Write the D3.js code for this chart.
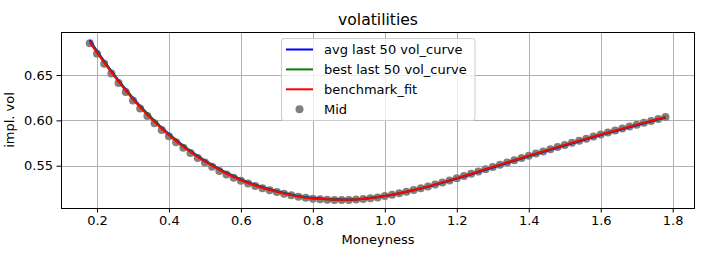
<!DOCTYPE html>
<html>
<head>
<meta charset="utf-8">
<script src="https://cdn.jsdelivr.net/npm/d3@7"></script>
<style>
  body { margin: 0; background: #fff; }
  text { font-family: "DejaVu Sans", sans-serif; fill: #000; }
</style>
</head>
<body>
<script>
// moneyness grid of the Mid quotes
const moneyness = [
  0.18, 0.20, 0.22, 0.24, 0.26, 0.28, 0.30, 0.32, 0.34, 0.36,
  0.38, 0.40, 0.42, 0.44, 0.46, 0.48, 0.50, 0.52, 0.54, 0.56,
  0.58, 0.60, 0.62, 0.64, 0.66, 0.68, 0.70, 0.72, 0.74, 0.76,
  0.78, 0.80, 0.82, 0.84, 0.86, 0.88, 0.90, 0.92, 0.94, 0.96,
  0.98, 1.00, 1.02, 1.04, 1.06, 1.08, 1.10, 1.12, 1.14, 1.16,
  1.18, 1.20, 1.22, 1.24, 1.26, 1.28, 1.30, 1.32, 1.34, 1.36,
  1.38, 1.40, 1.42, 1.44, 1.46, 1.48, 1.50, 1.52, 1.54, 1.56,
  1.58, 1.60, 1.62, 1.64, 1.66, 1.68, 1.70, 1.72, 1.74, 1.76,
  1.78
];
const midVol = [
  0.6850, 0.6734, 0.6624, 0.6517, 0.6413, 0.6314, 0.6220, 0.6131, 0.6047, 0.5968,
  0.5894, 0.5824, 0.5759, 0.5697, 0.5639, 0.5585, 0.5535, 0.5488, 0.5443, 0.5404,
  0.5368, 0.5333, 0.5303, 0.5276, 0.5251, 0.5229, 0.5209, 0.5190, 0.5174, 0.5159,
  0.5147, 0.5137, 0.5130, 0.5125, 0.5123, 0.5122, 0.5123, 0.5127, 0.5133, 0.5141,
  0.5151, 0.5165, 0.5181, 0.5197, 0.5214, 0.5232, 0.5251, 0.5271, 0.5292, 0.5314,
  0.5338, 0.5362, 0.5386, 0.5411, 0.5436, 0.5461, 0.5486, 0.5511, 0.5536, 0.5561,
  0.5585, 0.5610, 0.5634, 0.5658, 0.5682, 0.5706, 0.5729, 0.5752, 0.5775, 0.5798,
  0.5821, 0.5843, 0.5865, 0.5887, 0.5909, 0.5931, 0.5952, 0.5973, 0.5994, 0.6015,
  0.6036
];

// fitted curves
const curveMoneyness = [0.18, 0.2, 0.3, 0.4, 0.5, 0.6, 0.7, 0.8, 0.9, 1.0, 1.1, 1.2, 1.3, 1.4, 1.5, 1.6, 1.7, 1.78];
const avgCurve = [0.6885, 0.6766, 0.6248, 0.5850, 0.5557, 0.5350, 0.5220, 0.5143, 0.5126, 0.5166, 0.5248, 0.5358, 0.5481, 0.5604, 0.5723, 0.5837, 0.5947, 0.6032];
const bestCurve = [0.6872, 0.6757, 0.6241, 0.5844, 0.5552, 0.5346, 0.5216, 0.5140, 0.5125, 0.5166, 0.5250, 0.5361, 0.5485, 0.5608, 0.5727, 0.5841, 0.5950, 0.6035];
const benchmarkFit = [0.6860, 0.6746, 0.6232, 0.5836, 0.5545, 0.5340, 0.5212, 0.5138, 0.5124, 0.5166, 0.5251, 0.5363, 0.5487, 0.5611, 0.5730, 0.5844, 0.5953, 0.6037];

const xTicks = [0.2, 0.4, 0.6, 0.8, 1.0, 1.2, 1.4, 1.6, 1.8];
const yTicks = [0.55, 0.60, 0.65];

const series = [
  { name: 'avg last 50 vol_curve', values: avgCurve, color: '#0000ff' },
  { name: 'best last 50 vol_curve', values: bestCurve, color: '#008000' },
  { name: 'benchmark_fit', values: benchmarkFit, color: '#ff0000' }
];

const svgWidth = 704;
const svgHeight = 258;
const margin = { top: 32, right: 9, bottom: 50, left: 61 };

const svg = d3.select('body')
  .append('svg')
  .attr('width', svgWidth)
  .attr('height', svgHeight);

const xScale = d3.scaleLinear()
  .domain([0.10, 1.862])
  .range([margin.left, svgWidth - margin.right]);

const yScale = d3.scaleLinear()
  .domain([0.5034, 0.6974])
  .range([svgHeight - margin.bottom, margin.top]);

// grid
const grid = svg.append('g').attr('stroke', '#b0b0b0').attr('stroke-width', 1);
grid.selectAll('.gx').data(xTicks).enter().append('line')
  .attr('x1', d => Math.round(xScale(d)) + 0.5).attr('x2', d => Math.round(xScale(d)) + 0.5)
  .attr('y1', margin.top).attr('y2', svgHeight - margin.bottom);
grid.selectAll('.gy').data(yTicks).enter().append('line')
  .attr('x1', margin.left).attr('x2', svgWidth - margin.right)
  .attr('y1', d => Math.round(yScale(d)) + 0.5).attr('y2', d => Math.round(yScale(d)) + 0.5);

// Mid scatter
svg.append('g')
  .selectAll('circle')
  .data(moneyness)
  .enter()
  .append('circle')
  .attr('cx', d => xScale(d))
  .attr('cy', (d, i) => yScale(midVol[i]))
  .attr('r', 4)
  .attr('fill', '#808080');

// curves
const line = d3.line()
  .x((d, i) => xScale(curveMoneyness[i]))
  .y(d => yScale(d))
  .curve(d3.curveMonotoneX);

svg.append('g')
  .selectAll('path')
  .data(series)
  .enter()
  .append('path')
  .attr('d', d => line(d.values))
  .attr('fill', 'none')
  .attr('stroke', d => d.color)
  .attr('stroke-width', 2);

// X-axis
const xAxis = svg.append('g')
  .attr('transform', `translate(0,${svgHeight - margin.bottom})`)
  .call(d3.axisBottom(xScale).tickValues(xTicks).tickFormat(d3.format('.1f')).tickSize(4.5).tickPadding(3.5));

// Y-axis
const yAxis = svg.append('g')
  .attr('transform', `translate(${margin.left},0)`)
  .call(d3.axisLeft(yScale).tickValues(yTicks).tickFormat(d3.format('.2f')).tickSize(4.5).tickPadding(3.5));

[xAxis, yAxis].forEach(ax => {
  ax.select('.domain').remove();
  ax.selectAll('.tick line').attr('stroke', '#000').attr('stroke-width', 1);
  ax.selectAll('.tick text').attr('font-size', 13).attr('font-family', '"DejaVu Sans", sans-serif').attr('fill', '#000');
});

// frame
svg.append('rect')
  .attr('x', margin.left + 0.5)
  .attr('y', margin.top + 0.5)
  .attr('width', svgWidth - margin.left - margin.right - 1)
  .attr('height', svgHeight - margin.top - margin.bottom)
  .attr('fill', 'none')
  .attr('stroke', '#000')
  .attr('stroke-width', 1);

// labels
svg.append('text')
  .attr('x', (margin.left + svgWidth - margin.right) / 2)
  .attr('y', 25)
  .attr('text-anchor', 'middle')
  .attr('font-size', 15.6)
  .text('volatilities');

svg.append('text')
  .attr('x', (margin.left + svgWidth - margin.right) / 2)
  .attr('y', 244)
  .attr('text-anchor', 'middle')
  .attr('font-size', 13)
  .text('Moneyness');

svg.append('text')
  .attr('transform', `translate(14,${(margin.top + svgHeight - margin.bottom) / 2}) rotate(-90)`)
  .attr('text-anchor', 'middle')
  .attr('font-size', 13)
  .text('impl. vol');

// legend
const legend = svg.append('g').attr('transform', 'translate(281.5,38.5)');
legend.append('rect')
  .attr('width', 193.5)
  .attr('height', 82)
  .attr('rx', 2.5)
  .attr('fill', '#fff')
  .attr('fill-opacity', 0.8)
  .attr('stroke', '#cccccc')
  .attr('stroke-width', 1);

const entries = series.map(s => ({ name: s.name, color: s.color, kind: 'line' }))
  .concat([{ name: 'Mid', color: '#808080', kind: 'dot' }]);

const item = legend.selectAll('.item')
  .data(entries)
  .enter()
  .append('g')
  .attr('transform', (d, i) => `translate(0,${11 + i * 19.9})`);

item.filter(d => d.kind === 'line').append('line')
  .attr('x1', 4.5).attr('x2', 31.5)
  .attr('stroke', d => d.color)
  .attr('stroke-width', 2);

item.filter(d => d.kind === 'dot').append('circle')
  .attr('cx', 18).attr('r', 4)
  .attr('fill', d => d.color);

item.append('text')
  .attr('x', 42.5)
  .attr('y', 4.6)
  .attr('font-size', 13)
  .text(d => d.name);
</script>
</body>
</html>
